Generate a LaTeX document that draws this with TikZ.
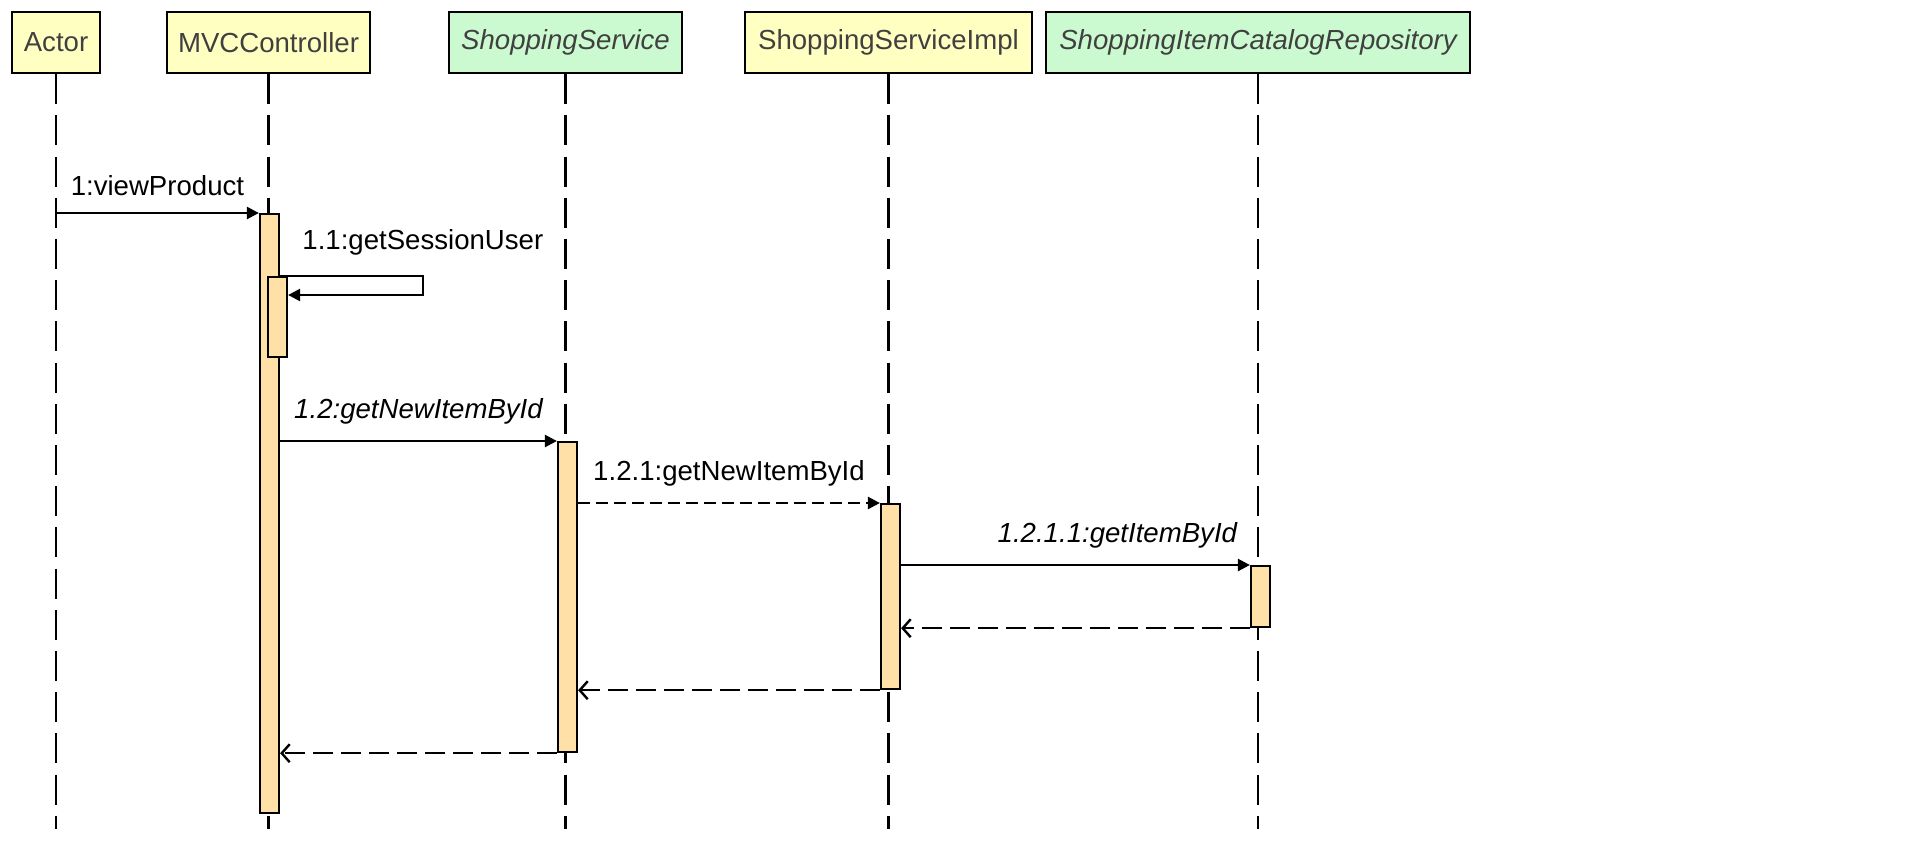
\documentclass[tikz,border=0pt]{standalone}
\usepackage{fontspec}
\setmainfont{Liberation Sans}
\usepackage{xcolor}
\usepackage{tikz}
\usetikzlibrary{arrows.meta, positioning, calc}

\definecolor{clsyellow}{RGB}{255,255,194}
\definecolor{ifgreen}{RGB}{204,250,208}
\definecolor{actorange}{RGB}{255,224,166}
\definecolor{hdrtext}{RGB}{64,64,64}

\begin{document}
\begin{tikzpicture}[
  x=0.5pt, y=-0.5pt,
  every node/.style={font=\fontsize{13.8}{16}\selectfont},
  header/.style={rectangle, draw, line width=1.1pt, minimum height=30.5pt, inner sep=0pt, align=center, text=hdrtext},
  cls/.style={header, fill=clsyellow},
  iface/.style={header, fill=ifgreen, font=\fontsize{13.8}{16}\selectfont\itshape},
  lifeline/.style={line width=1.2pt, dash pattern=on 15pt off 5.6pt},
  act/.style={rectangle, draw, line width=1.1pt, fill=actorange, minimum width=9.5pt, inner sep=0pt, anchor=north},
  call/.style={line width=1.2pt, -{Triangle[length=6pt,width=6pt]}},
  ret/.style={line width=1.2pt, dash pattern=on 10pt off 4pt, -{Straight Barb[length=4pt,width=9pt]}},
  msg/.style={above=8pt, inner sep=0pt}
]
  \useasboundingbox (0,0) rectangle (1910,840);

  % participants
  \node[cls, minimum width=44pt] (hActor) at (56,42.5) {Actor};
  \node[cls, minimum width=101.5pt, right=32.4pt of hActor] (hMVC) {MVCController};
  \node[iface, minimum width=116.5pt, right=38.4pt of hMVC] (hSS) {ShoppingService};
  \node[cls, minimum width=143.5pt, right=30.4pt of hSS] (hImpl) {ShoppingServiceImpl};
  \node[iface, minimum width=212pt, right=5.9pt of hImpl] (hRepo) {ShoppingItemCatalogRepository};

  \foreach \p in {hActor, hMVC, hSS, hImpl, hRepo}
    \draw[lifeline] (\p.south) -- ++(0,755);

  % activations
  \node[act, minimum height=299.5pt] (aMVC) at (269.5,213) {};
  \node[act, minimum height=40pt] (aSelf) at (277.5,276) {};
  \node[act, minimum height=155pt] (aSS) at (567.5,441) {};
  \node[act, minimum height=92.5pt] (aImpl) at (890.5,503) {};
  \node[act, minimum height=30.5pt] (aRepo) at (1260.5,565) {};

  % messages
  \draw[call] (hActor.south |- aMVC.north) -- (aMVC.north west)
    node[msg, midway] {1:viewProduct};
  \draw[call] (aMVC.east |- aSelf.north) -- ++(143,0) |- ($(aSelf.north east)+(0,19)$);
  \node[anchor=south west, inner sep=0pt] (lSelf) at (302,256) {1.1:getSessionUser};
  \draw[call] (aMVC.east |- aSS.north) -- (aSS.north west)
    node[msg, midway, font=\fontsize{13.8}{16}\selectfont\itshape] {1.2:getNewItemById};
  \draw[call, dash pattern=on 6pt off 3pt] (aSS.east |- aImpl.north) -- (aImpl.north west)
    node[msg, midway] {1.2.1:getNewItemById};
  \draw[call] (aImpl.east |- aRepo.north) -- (aRepo.north west)
    node[msg, pos=0.62, font=\fontsize{13.8}{16}\selectfont\itshape] {1.2.1.1:getItemById};

  % returns
  \draw[ret] (aRepo.south west) -- (aImpl.east |- aRepo.south);
  \draw[ret] (aImpl.south west) -- (aSS.east |- aImpl.south);
  \draw[ret] (aSS.south west) -- (aMVC.east |- aSS.south);
\end{tikzpicture}
\end{document}
